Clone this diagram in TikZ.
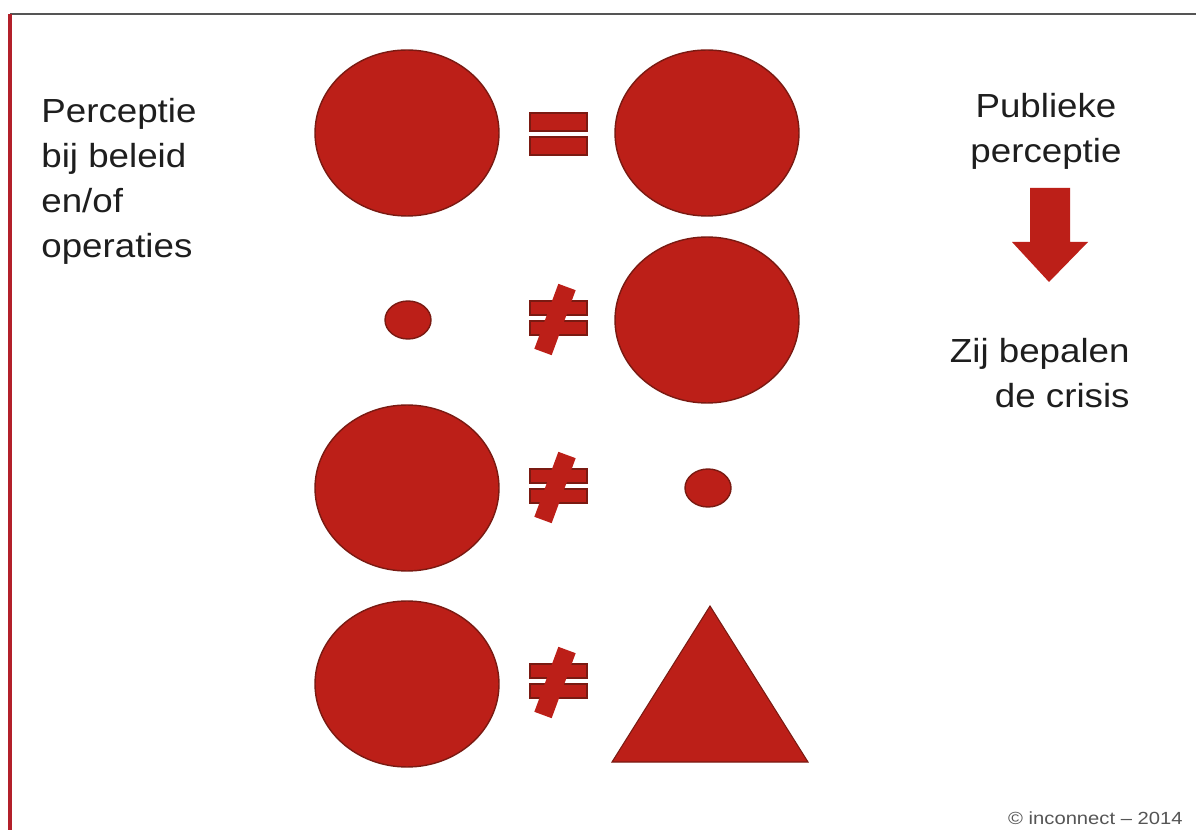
\documentclass[tikz,border=0pt]{standalone}
\usepackage{fontspec}
\setmainfont{Liberation Sans}
\usetikzlibrary{shapes.geometric}
\definecolor{CrisisRed}{HTML}{BC1F18}
\definecolor{CrisisEdge}{HTML}{7A1A12}
\definecolor{FrameGrey}{HTML}{555555}
\definecolor{FrameRed}{HTML}{B3202A}
\definecolor{TextGrey}{HTML}{1E1E1E}

\begin{document}
\begin{tikzpicture}[x=0.02cm,y=-0.02cm,
  every node/.style={text=TextGrey},
  big/.style={ellipse,draw=CrisisEdge,fill=CrisisRed,line width=.8pt,
    minimum width=3.68cm,minimum height=3.32cm,inner sep=0pt},
  small/.style={big,minimum width=.92cm,minimum height=.76cm},
  sign/.style={fill=CrisisRed,draw=CrisisEdge,line width=.6pt},
  lbl/.style={inner sep=0pt,xscale=1.1,font=\fontsize{19}{25.6}\selectfont}]
\useasboundingbox (0,0) rectangle (1196,830);
\fill[white] (0,0) rectangle (1196,830);
% frame
\draw[FrameGrey,line width=1.5pt] (10,14) -- (1196,14);
\draw[FrameRed,line width=2pt] (10,14) -- (10,830);

% what policy / operations see
\node[big] (l1) at (407,133) {};
\node[small] (l2) at (408,320) {};
\node[big] (l3) at (407,488) {};
\node[big] (l4) at (407,684) {};
% what the public sees
\node[big] (r1) at (707,133) {};
\node[big] (r2) at (707,320) {};
\node[small] (r3) at (708,488) {};
\filldraw[sign] (710,606) -- (808,762) -- (612,762) -- cycle;

% = and the three signs of inequality
\filldraw[sign] (530,113) rectangle (587,131);
\filldraw[sign] (530,137) rectangle (587,155);
\foreach \y in {320,488,683} {
  \filldraw[sign] (530,\y-19) rectangle (587,\y-5);
  \filldraw[sign] (530,\y+1) rectangle (587,\y+15);
  \draw[CrisisRed,line width=10.5pt] (567,\y-33) -- (543,\y+32);
}

\node[lbl,anchor=north west,align=left] (perc) at (41,98)
  {Perceptie\\bij beleid\\en/of\\operaties};
\node[lbl,anchor=north,align=center] (pub) at (1046,93) {Publieke\\perceptie};
\node[lbl,anchor=north east,align=right] (zij) at (1130,338) {Zij bepalen\\de crisis};
\fill[CrisisRed] (1030,188) -- (1070,188) -- (1070,242) -- (1088,242)
  -- (1049,282) -- (1012,242) -- (1030,242) -- cycle;
\node[inner sep=0pt,anchor=base east,text=FrameGrey,xscale=1.15,
  font=\fontsize{10}{12}\selectfont] (copy) at (1183,824) {© inconnect – 2014};
\end{tikzpicture}
\end{document}
